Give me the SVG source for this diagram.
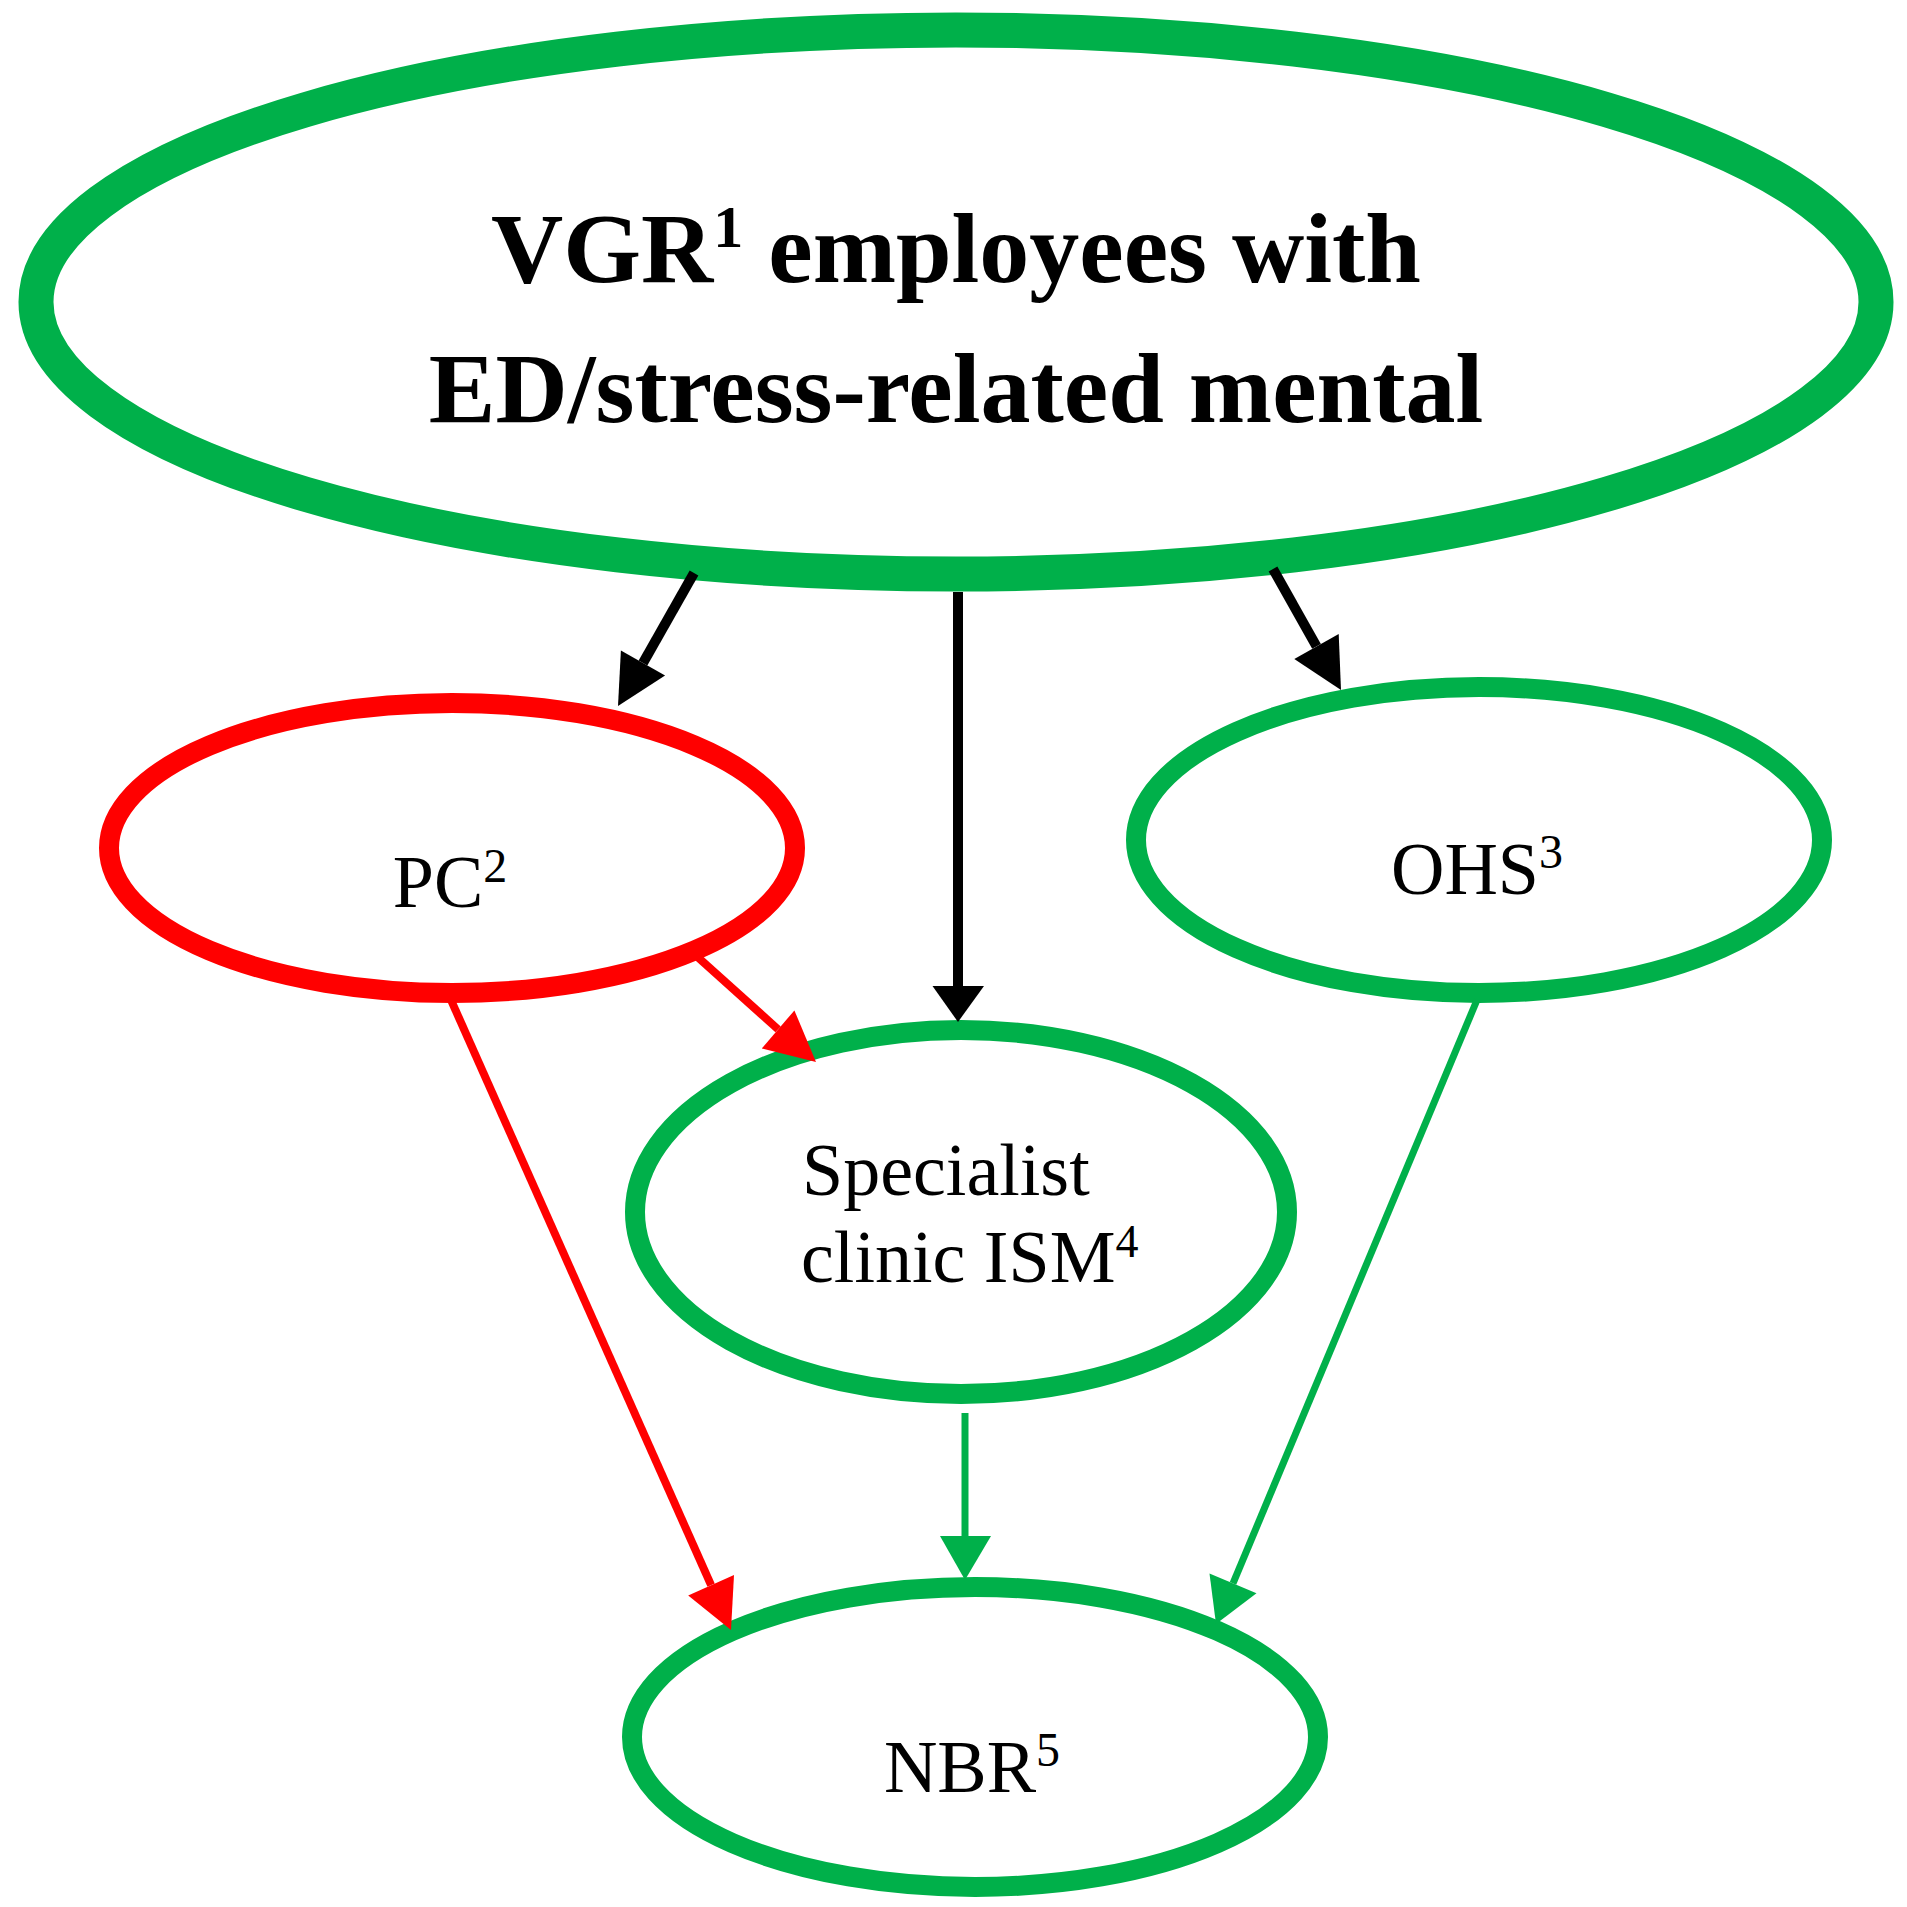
<svg xmlns="http://www.w3.org/2000/svg" width="1907" height="1907" viewBox="0 0 1907 1907">
<style>
.bg{fill:#ffffff}
.node{fill:#ffffff}
.green{stroke:#00b04a}
.red{stroke:#ff0000}
.lbl{font-family:"Liberation Serif","Times New Roman",serif;font-size:74px;fill:#000000}
.title{font-family:"Liberation Serif","Times New Roman",serif;font-size:100px;font-weight:bold;fill:#000000}
.ln{fill:none;stroke-linecap:butt}
.blk{stroke:#000000;stroke-width:10}
.rl{stroke:#ff0000;stroke-width:8}
.gl{stroke:#00b04a;stroke-width:7}
.hb{fill:#000000}
.hr{fill:#ff0000}
.hg{fill:#00b04a}
</style>
<rect class="bg" x="0" y="0" width="1907" height="1907"/>
<g id="node-vgr">
<ellipse class="node green" cx="956" cy="302" rx="920" ry="272" stroke-width="35"/>
<text class="title" x="956" y="282" text-anchor="middle">VGR<tspan font-size="60" dy="-35">1</tspan><tspan dy="35"> employees with</tspan></text>
<text class="title" x="956" y="422" text-anchor="middle">ED/stress-related mental</text>
</g>
<g id="node-pc">
<ellipse class="node red" cx="452" cy="848" rx="343" ry="145" stroke-width="20"/>
<text class="lbl" x="450" y="907" text-anchor="middle">PC<tspan font-size="48" dy="-25">2</tspan></text>
</g>
<g id="node-ohs">
<ellipse class="node green" cx="1479" cy="840" rx="343" ry="153" stroke-width="20"/>
<text class="lbl" x="1477" y="894" text-anchor="middle">OHS<tspan font-size="48" dy="-26">3</tspan></text>
</g>
<g id="node-ism">
<ellipse class="node green" cx="961" cy="1212" rx="326" ry="182" stroke-width="20"/>
<text class="lbl" x="802" y="1195" font-size="73">Specialist</text>
<text class="lbl" x="801" y="1282" font-size="73">clinic ISM<tspan font-size="46" dy="-25">4</tspan></text>
</g>
<g id="node-nbr">
<ellipse class="node green" cx="975" cy="1737" rx="343" ry="150" stroke-width="20"/>
<text class="lbl" x="972" y="1792" text-anchor="middle">NBR<tspan font-size="48" dy="-26">5</tspan></text>
</g>
<g id="connectors">
<line class="ln blk" x1="694" y1="573" x2="643" y2="663"/>
<polygon class="hb" points="618,706 620.9,650.4 665.1,675.6"/>
<line class="ln blk" x1="958" y1="592" x2="958" y2="988"/>
<polygon class="hb" points="958,1022 932.5,986 984,986"/>
<line class="ln blk" x1="1273" y1="569" x2="1316.5" y2="646.4"/>
<polygon class="hb" points="1341,690 1294.3,658.9 1338.7,633.9"/>
<line class="ln rl" x1="692" y1="952" x2="778.1" y2="1029.4"/>
<polygon class="hr" points="816,1062 761.8,1048.4 794.4,1010.4"/>
<line class="ln rl" x1="451" y1="1000" x2="711.1" y2="1585.2"/>
<polygon class="hr" points="731,1630 688.2,1595.4 734,1575"/>
<line class="ln gl" x1="965" y1="1413" x2="965" y2="1538"/>
<polygon class="hg" points="965,1580 940,1536 991,1536"/>
<line class="ln gl" x1="1477" y1="1000" x2="1233" y2="1583.4"/>
<polygon class="hg" points="1216,1624 1256.5,1593.2 1209.5,1573.6"/>
</g>
</svg>
